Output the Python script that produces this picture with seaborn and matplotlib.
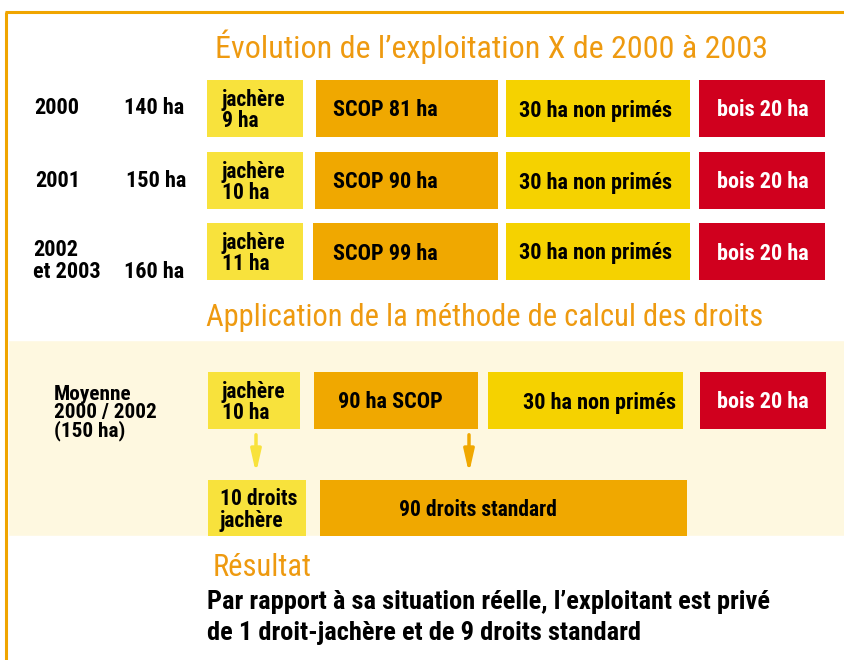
"""
Évolution de l'exploitation X — reconstruction de l'infographie des droits.
"""
import matplotlib

matplotlib.use("Agg")
import matplotlib.pyplot as plt  # noqa: E402
import seaborn as sns  # noqa: E402
from matplotlib import font_manager  # noqa: E402

# ── données ────────────────────────────────────────────────────────────────
years = ["2000", "2001", "2002\net 2003"]
surfaces = [140, 150, 160]
jachere = [9, 10, 11]
scop = [81, 90, 99]
non_primes = [30, 30, 30]
bois = [20, 20, 20]

moy_surface = 150
moy_jachere = 10
moy_scop = 90
moy_non_primes = 30
moy_bois = 20

droits_jachere = 10
droits_standard = 90

# ── style ──────────────────────────────────────────────────────────────────
sns.set_theme(style="white")


def _pick(*names):
    for n in names:
        try:
            font_manager.findfont(n, fallback_to_default=False)
            return n
        except ValueError:
            continue
    return "DejaVu Sans"


NARROW = _pick("Liberation Sans Narrow", "Roboto Condensed", "DejaVu Sans")
plt.rcParams["font.family"] = [NARROW, "DejaVu Sans"]

ORANGE_LINE = "#F0A500"
TITLE = "#EE9A10"
C_JACH = "#F8E23C"
C_SCOP = "#F0A800"
C_NONP = "#F5D200"
C_BOIS = "#D0001E"
CREAM = "#FEF8E0"

fig = plt.figure(figsize=(8.45, 6.6), dpi=100)
ax = fig.add_axes([0, 0, 1, 1])
ax.set_xlim(0, 845)
ax.set_ylim(660, 0)
ax.axis("off")

# cadre et bandeau crème
ax.plot([5, 845], [12, 12], color=ORANGE_LINE, lw=2.2, solid_capstyle="butt")
ax.plot([6, 6], [12, 660], color=ORANGE_LINE, lw=2.2, solid_capstyle="butt")
ax.barh(438, 837, left=8, height=196, color=CREAM, zorder=0)


def box(x0, x1, y0, y1, color):
    ax.barh((y0 + y1) / 2, x1 - x0, left=x0, height=y1 - y0, color=color,
            linewidth=0, zorder=2)


def label(x, y, s, color="black", ha="left", size=16, ls=0.95):
    # petit décalage : va="center" centre aussi les jambages
    ax.text(x, y + 2, s, color=color, ha=ha, va="center", fontsize=size,
            fontweight="bold", linespacing=ls, zorder=3)


# ── partie 1 : évolution ───────────────────────────────────────────────────
ax.text(492, 47, "Évolution de l’exploitation X de 2000 à 2003", color=TITLE,
        ha="center", va="center", fontsize=23)

row_top = [80, 152, 223]
scop_left = [316, 315, 313]
H = 57
for i, yt in enumerate(row_top):
    yb = yt + H
    yc = yt + H / 2
    box(207, 303, yt, yb, C_JACH)
    box(scop_left[i], 498, yt, yb, C_SCOP)
    box(506, 690, yt, yb, C_NONP)
    box(699, 825, yt, yb, C_BOIS)
    label(222, yc, f"jachère\n{jachere[i]} ha", size=15.5)
    label(333, yc, f"SCOP {scop[i]} ha")
    label(596, yc, f"{non_primes[i]} ha non primés", ha="center")
    label(763, yc, f"bois {bois[i]} ha", color="white", ha="center")

label(34, 106, years[0])
label(124, 106, f"{surfaces[0]} ha")
label(35, 179, years[1])
label(126, 179, f"{surfaces[1]} ha")
label(33, 259, years[2])
label(124, 270, f"{surfaces[2]} ha")

# ── partie 2 : méthode ─────────────────────────────────────────────────────
ax.text(485, 318, "Application de la méthode de calcul des droits",
        color=TITLE, ha="center", va="center", fontsize=22)

yt, yb = 372, 429
yc = (yt + yb) / 2
box(208, 300, yt, yb, C_JACH)
box(314, 478, yt, yb, C_SCOP)
box(488, 683, yt, yb, C_NONP)
box(700, 826, yt, yb, C_BOIS)
label(222, yc, f"jachère\n{moy_jachere} ha", size=15.5)
label(338, yc, f"{moy_scop} ha SCOP")
label(600, yc, f"{moy_non_primes} ha non primés", ha="center")
label(763, yc, f"bois {moy_bois} ha", color="white", ha="center")
label(54, 411, f"Moyenne\n2000 / 2002\n({moy_surface} ha)", size=15.3,
      ls=0.9)

ax.annotate("", xy=(256, 476), xytext=(256, 432),
            arrowprops=dict(arrowstyle="-|>,head_width=0.25,head_length=1.1",
                            color=C_JACH, lw=2.5))
ax.annotate("", xy=(469, 476), xytext=(469, 432),
            arrowprops=dict(arrowstyle="-|>,head_width=0.25,head_length=1.1",
                            color=C_SCOP, lw=2.5))

box(208, 306, 480, 536, C_JACH)
box(320, 687, 480, 536, C_SCOP)
label(220, 508, f"{droits_jachere} droits\njachère", size=15.5)
label(478, 508, f"{droits_standard} droits standard", ha="center", size=15.5)

# ── partie 3 : résultat ────────────────────────────────────────────────────
ax.text(213, 568, "Résultat", color=TITLE, ha="left", va="center", fontsize=22)
ax.text(207, 602, "Par rapport à sa situation réelle, l’exploitant est privé",
        ha="left", va="center", fontsize=19, fontweight="bold", color="black")
ax.text(207, 633, "de 1 droit-jachère et de 9 droits standard",
        ha="left", va="center", fontsize=19, fontweight="bold", color="black")

fig.savefig("out.png", dpi=100)
